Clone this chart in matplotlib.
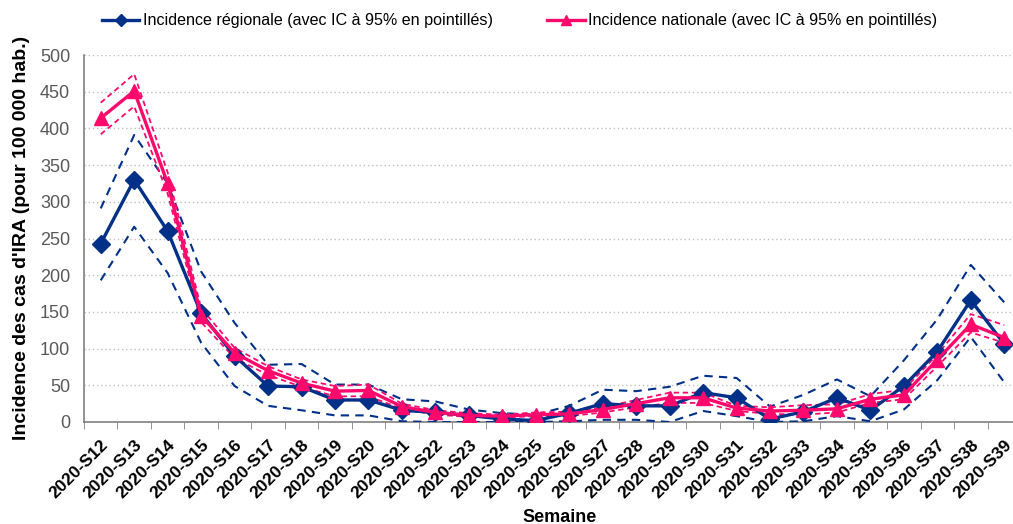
import matplotlib
matplotlib.use("Agg")
import matplotlib.pyplot as plt
import numpy as np

plt.rcParams['font.family'] = ['Liberation Sans', 'DejaVu Sans']

weeks = [f"2020-S{w}" for w in range(12, 40)]

reg = [243, 330, 260, 148, 90, 49, 48, 30, 30, 16, 13, 9, 4, 2, 12, 25, 22, 22, 40, 33, 4, 14, 33, 16, 49, 96, 166, 106]
reg_hi = [291, 391, 325, 205, 135, 78, 79, 51, 51, 31, 28, 17, 12, 10, 22, 44, 42, 48, 63, 60, 21, 37, 58, 35, 84, 140, 214, 163]
reg_lo = [193, 266, 203, 108, 49, 22, 16, 9, 9, 1, 0, 0, 0, 0, 1, 3, 3, 0, 15, 8, 0, 1, 8, 1, 17, 57, 116, 54]

nat = [414, 451, 325, 145, 94, 70, 53, 42, 43, 21, 13, 9, 8, 10, 11, 17, 25, 33, 33, 19, 15, 16, 18, 31, 37, 85, 133, 115]
nat_hi = [435, 474, 340, 155, 101, 76, 58, 49, 51, 25, 16, 12, 10, 13, 14, 20, 30, 40, 40, 22, 20, 23, 24, 38, 44, 92, 147, 132]
nat_lo = [392, 430, 311, 136, 87, 64, 48, 35, 35, 18, 10, 7, 6, 8, 8, 13, 20, 26, 26, 15, 11, 10, 13, 26, 31, 76, 122, 108]

yticks = [0, 50, 100, 150, 200, 250, 300, 350, 400, 450, 500]

BLUE = '#003087'
PINK = '#FF0A6C'

W, H = 1013, 524
fig = plt.figure(figsize=(W / 100, H / 100), dpi=100)
ax = fig.add_axes([84 / W, 1 - 422 / H, 937 / W, (422 - 55) / H])

x = np.arange(len(weeks))

ax.plot(x, reg_hi, color=BLUE, lw=1.5, ls=(0, (4, 3)), zorder=3)
ax.plot(x, reg_lo, color=BLUE, lw=1.5, ls=(0, (4, 3)), zorder=3)
ax.plot(x, nat_hi, color=PINK, lw=1.3, ls=(0, (3, 2)), zorder=4)
ax.plot(x, nat_lo, color=PINK, lw=1.3, ls=(0, (3, 2)), zorder=4)
l1, = ax.plot(x, reg, color=BLUE, lw=2.4, marker='D', markersize=9, zorder=5,
              label='Incidence régionale (avec IC à 95% en pointillés)')
l2, = ax.plot(x, nat, color=PINK, lw=2.4, marker='^', markersize=10, zorder=6,
              label='Incidence nationale (avec IC à 95% en pointillés)')

ax.set_xlim(-0.5, len(weeks) - 0.5)
ax.set_ylim(0, 500)
ax.set_yticks(yticks)
ax.set_yticklabels([str(v) for v in yticks])
ax.tick_params(axis='y', length=0, labelsize=13, labelcolor='#595959', pad=10)
ax.yaxis.grid(True, color='#BFBFBF', ls=(0, (1, 2)), lw=1)
ax.set_axisbelow(True)

ax.set_xticks(x)
ax.set_xticklabels(weeks, rotation=45, ha='right', va='top', rotation_mode='anchor',
                   fontweight='bold', fontsize=12.5)
ax.tick_params(axis='x', which='major', length=0, pad=11)
ax.set_xticks(np.arange(-0.5, len(weeks) + 0.5, 1), minor=True)
ax.tick_params(axis='x', which='minor', length=5, color='#808080', direction='out')

for s in ['top', 'right']:
    ax.spines[s].set_visible(False)
for s in ['left', 'bottom']:
    ax.spines[s].set_color('#808080')
    ax.spines[s].set_linewidth(1.2)

fig.text(22 / W, 1 - 238 / H, "Incidence des cas d'IRA (pour 100 000 hab.)", rotation=90,
         ha='center', va='center', fontweight='bold', fontsize=14)
fig.text(560 / W, 1 - 517 / H, "Semaine", ha='center', va='center', fontweight='bold', fontsize=13)

fig.legend(handles=[l1, l2], loc='center', bbox_to_anchor=(0.513, 1 - 21 / H), ncol=2,
           frameon=False, fontsize=11.6, handlelength=2.3, handletextpad=0.2, columnspacing=3.4,
           markerscale=0.7)

fig.savefig('out.png', dpi=100)
